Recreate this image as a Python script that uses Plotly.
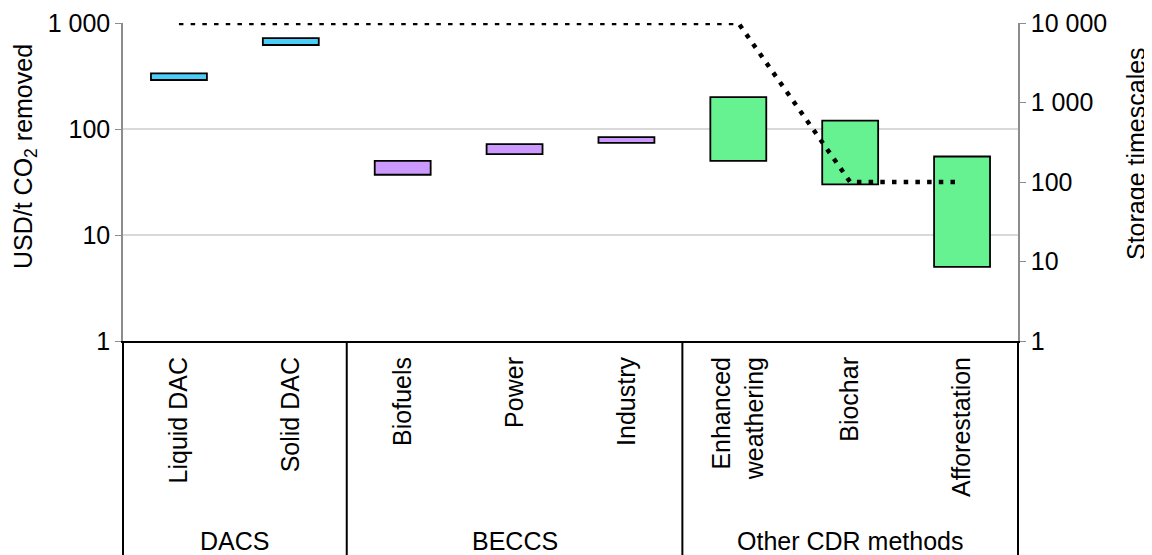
import plotly.graph_objects as go

# данные
categories = ["Liquid DAC", "Solid DAC", "Biofuels", "Power", "Industry",
              "Enhanced<br>weathering", "Biochar", "Afforestation"]
groups = ["DACS", "DACS", "BECCS", "BECCS", "BECCS",
          "Other CDR methods", "Other CDR methods", "Other CDR methods"]
cost_low = [290, 620, 37, 58, 74, 50, 30, 5]
cost_high = [335, 720, 50, 72, 84, 200, 120, 55]
storage = [10000, 10000, 10000, 10000, 10000, 10000, 100, 100]

group_colors = {"DACS": "#4CCDF7", "BECCS": "#CC99FF", "Other CDR methods": "#66F290"}
FONT = "Liberation Sans, Arial, sans-serif"
FS = 25

fig = go.Figure()

# плавающие столбцы: от min до max
fig.add_trace(go.Bar(
    x=categories,
    y=[h - l for h, l in zip(cost_high, cost_low)],
    base=cost_low,
    width=0.5,
    marker=dict(color=[group_colors[g] for g in groups],
                line=dict(color="black", width=1.8)),
    showlegend=False,
))

# сроки хранения (правая ось)
fig.add_trace(go.Scatter(
    x=categories, y=storage, yaxis="y2", mode="lines",
    line=dict(color="black", width=4.5, dash="4.5px,7.2px"),
    showlegend=False,
))

# рамка таблицы категорий под осью
n = len(categories)
bounds = [0]
for i in range(1, n):
    if groups[i] != groups[i - 1]:
        bounds.append(i)
bounds.append(n)
bottom = -230 / 318
for b in bounds:
    fig.add_shape(type="line", xref="paper", yref="paper",
                  x0=b / n, x1=b / n, y0=0, y1=bottom,
                  line=dict(color="black", width=2))
for a, b in zip(bounds[:-1], bounds[1:]):
    fig.add_annotation(text=groups[a], xref="paper", yref="paper",
                       x=(a + b) / 2 / n, y=-200 / 318,
                       xanchor="center", yanchor="middle",
                       showarrow=False, font=dict(family=FONT, size=FS, color="black"))

# подписи осей
fig.add_annotation(text="USD/t CO<sub>2</sub> removed", xref="paper", yref="paper",
                   x=-98 / 895, y=184 / 318, textangle=-90,
                   xanchor="center", yanchor="middle", showarrow=False,
                   font=dict(family=FONT, size=FS, color="black"))
fig.add_annotation(text="Storage timescales", xref="paper", yref="paper",
                   x=1013 / 895, y=187 / 318, textangle=-90,
                   xanchor="center", yanchor="middle", showarrow=False,
                   font=dict(family=FONT, size=FS, color="black"))

left_ticks = [1, 10, 100, 1000]
right_ticks = [1, 10, 100, 1000, 10000]
fmt = lambda v: f"{v:,}".replace(",", " ")

fig.update_layout(
    width=1152, height=555,
    margin=dict(l=115, r=142, t=15, b=222),
    paper_bgcolor="white", plot_bgcolor="white",
    font=dict(family=FONT, size=FS, color="black"),
    bargap=0.5,
    xaxis=dict(
        type="category", tickangle=-90, ticks="", showline=True,
        linecolor="black", linewidth=2, ticklabelstandoff=4,
        tickfont=dict(size=FS), range=[-0.5, n - 0.5],
    ),
    yaxis=dict(
        type="log", range=[0, 3], tickvals=left_ticks,
        ticktext=[fmt(v) for v in left_ticks],
        showgrid=True, gridcolor="#D9D9D9", gridwidth=2,
        showline=True, linecolor="#8C8C8C", linewidth=1.5,
        ticks="outside", ticklen=6, tickcolor="#8C8C8C",
        zeroline=False, automargin=False,
    ),
    yaxis2=dict(
        type="log", range=[0, 4], overlaying="y", side="right",
        tickvals=right_ticks, ticktext=[fmt(v) for v in right_ticks],
        showgrid=False, showline=True, linecolor="#8C8C8C", linewidth=1.5,
        ticks="outside", ticklen=6, tickcolor="#8C8C8C",
        zeroline=False, automargin=False,
    ),
)

fig.write_html("out.html")
